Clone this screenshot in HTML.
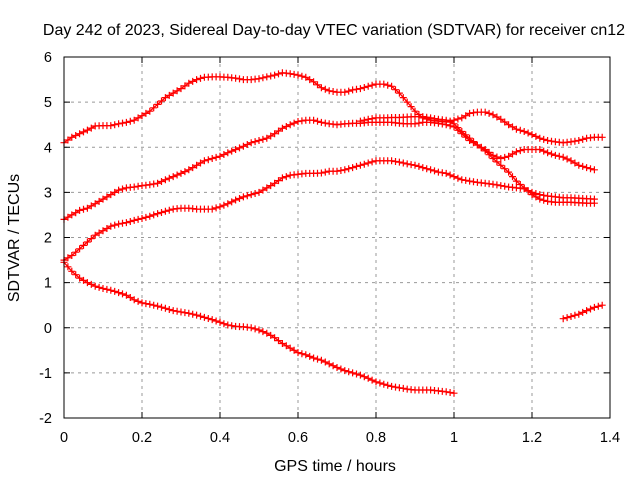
<!DOCTYPE html>
<html><head><meta charset="utf-8"><style>
body{margin:0;background:#fff;}
svg{display:block;font-family:"Liberation Sans",sans-serif;}
</style></head><body>
<svg id="chart" width="640" height="480" viewBox="0 0 640 480">
<rect width="640" height="480" fill="#fff"/>
<text x="334" y="35" text-anchor="middle" font-size="16">Day 242 of 2023, Sidereal Day-to-day VTEC variation (SDTVAR) for receiver cn12</text>
<text x="335" y="471" text-anchor="middle" font-size="16">GPS time / hours</text>
<text transform="translate(19,238) rotate(-90)" text-anchor="middle" font-size="16">SDTVAR / TECUs</text>
<g id="grid"></g>
<g id="series"></g>
<rect x="64" y="57" width="546" height="361" fill="none" stroke="#000" stroke-width="1"/>
<g id="ticks"></g>
</svg>
<script>
const xTicks = [0,0.2,0.4,0.6,0.8,1,1.2,1.4];
const xTickLabels = ["0","0.2","0.4","0.6","0.8","1","1.2","1.4"];
const yTicks = [-2,-1,0,1,2,3,4,5,6];
const yTickLabels = ["-2","-1","0","1","2","3","4","5","6"];
const s1Start = 0;
const s1 = [4.1,4.22,4.3,4.38,4.47,4.48,4.48,4.52,4.55,4.6,4.7,4.8,4.95,5.1,5.2,5.3,5.42,5.5,5.55,5.56,5.56,5.55,5.53,5.5,5.5,5.52,5.56,5.6,5.65,5.63,5.6,5.55,5.45,5.32,5.25,5.22,5.22,5.27,5.3,5.35,5.4,5.4,5.35,5.2,5.0,4.8,4.65,4.6,4.58,4.56,4.6,4.65,4.75,4.78,4.78,4.72,4.62,4.5,4.4,4.35,4.28,4.2,4.15,4.12,4.1,4.12,4.15,4.2,4.22,4.22];
const s2Start = 0;
const s2 = [2.4,2.5,2.6,2.65,2.75,2.85,2.95,3.05,3.1,3.12,3.15,3.17,3.2,3.28,3.35,3.42,3.5,3.6,3.7,3.75,3.8,3.88,3.95,4.02,4.1,4.15,4.2,4.3,4.42,4.5,4.57,4.6,4.6,4.55,4.52,4.5,4.52,4.53,4.53,4.55,4.55,4.55,4.55,4.53,4.52,4.52,4.55,4.55,4.53,4.5,4.45,4.3,4.15,4.05,3.95,3.82,3.75,3.8,3.9,3.95,3.95,3.95,3.88,3.82,3.78,3.7,3.6,3.55,3.5];
const s3Start = 0;
const s3 = [1.5,1.6,1.75,1.9,2.05,2.15,2.25,2.3,2.33,2.38,2.42,2.47,2.53,2.58,2.63,2.65,2.65,2.63,2.63,2.63,2.68,2.75,2.83,2.9,2.95,3.0,3.1,3.2,3.32,3.38,3.4,3.42,3.42,3.43,3.47,3.47,3.5,3.55,3.6,3.65,3.7,3.7,3.7,3.67,3.63,3.6,3.55,3.5,3.45,3.42,3.35,3.28,3.25,3.22,3.2,3.18,3.15,3.12,3.1,3.08,3.0,2.95,2.92,2.9,2.88,2.88,2.87,2.86,2.85];
const s4Start = 0.76;
const s4 = [4.58,4.62,4.65,4.65,4.66,4.66,4.67,4.68,4.68,4.65,4.62,4.6,4.52,4.35,4.2,4.05,3.92,3.75,3.6,3.45,3.25,3.1,2.95,2.85,2.8,2.78,2.78,2.78,2.77,2.76,2.76];
const s5Start = 0;
const s5 = [1.45,1.25,1.1,1.0,0.92,0.87,0.83,0.78,0.72,0.62,0.55,0.52,0.48,0.43,0.38,0.35,0.32,0.28,0.23,0.18,0.12,0.06,0.03,0.02,0.0,-0.05,-0.12,-0.22,-0.35,-0.45,-0.55,-0.6,-0.67,-0.72,-0.8,-0.88,-0.95,-1.0,-1.05,-1.12,-1.2,-1.25,-1.3,-1.33,-1.36,-1.38,-1.38,-1.38,-1.4,-1.42,-1.45];
const s6Start = 1.28;
const s6 = [0.2,0.25,0.3,0.38,0.45,0.5];
const step = 0.02;

const NS='http://www.w3.org/2000/svg';
function xs(v){return 64+(v-0)/(1.4-0)*546;}
function ys(v){return 418-(v+2)/8*361;}
const grid=document.getElementById('grid'), ticks=document.getElementById('ticks'), ser=document.getElementById('series');
function mk(tag,attrs,parent){const e=document.createElementNS(NS,tag);for(const k in attrs)e.setAttribute(k,attrs[k]);parent.appendChild(e);return e;}
xTicks.forEach((t,i)=>{
  const x=xs(t);
  if(i>0&&i<xTicks.length-1){const g=mk('line',{x1:x,y1:57,x2:x,y2:418,stroke:'#999','stroke-dasharray':'3,4'},grid);
  
  }
  mk('line',{x1:x,y1:418,x2:x,y2:412,stroke:'#000'},ticks);
  mk('line',{x1:x,y1:57,x2:x,y2:63,stroke:'#000'},ticks);
  const tx=mk('text',{x:x,y:442,'text-anchor':'middle','font-size':'14.5'},ticks);
  tx.textContent=xTickLabels[i];
  
  
});
yTicks.forEach((t,i)=>{
  const y=ys(t);
  if(i>0&&i<yTicks.length-1){const g=mk('line',{x1:64,y1:y,x2:610,y2:y,stroke:'#999','stroke-dasharray':'3,4'},grid);
  
  }
  mk('line',{x1:64,y1:y,x2:70,y2:y,stroke:'#000'},ticks);
  mk('line',{x1:610,y1:y,x2:604,y2:y,stroke:'#000'},ticks);
  const tx=mk('text',{x:52,y:y+5,'text-anchor':'end','font-size':'14.5'},ticks);
  tx.textContent=yTickLabels[i];
  
  
});
function draw(vals,start,name){
  const g=mk('g',{},ser);
  
  
  let d='';
  vals.forEach((v,i)=>{const x=xs(start+i*step),y=ys(v);d+=(i?'L':'M')+x.toFixed(1)+','+y.toFixed(1);});
  mk('path',{d:d,fill:'none',stroke:'#f00','stroke-width':1.3},g);
  let m='';
  vals.forEach((v,i)=>{const x=xs(start+i*step),y=ys(v);m+='M'+(x-3.5).toFixed(1)+','+y.toFixed(1)+'h7M'+x.toFixed(1)+','+(y-3.5).toFixed(1)+'v7';
    const x2=xs(start+(i+0.5)*step);
    if(i<vals.length-1){const y2=ys((v+vals[i+1])/2);m+='M'+(x2-3.5).toFixed(1)+','+y2.toFixed(1)+'h7M'+x2.toFixed(1)+','+(y2-3.5).toFixed(1)+'v7';}
  });
  mk('path',{d:m,fill:'none',stroke:'#f00','stroke-width':1.2},g);
}
draw(s1,s1Start,'series-1');
draw(s2,s2Start,'series-2');
draw(s3,s3Start,'series-3');
draw(s4,s4Start,'series-4');
draw(s5,s5Start,'series-5');
draw(s6,s6Start,'series-6');
</script>
</body></html>
